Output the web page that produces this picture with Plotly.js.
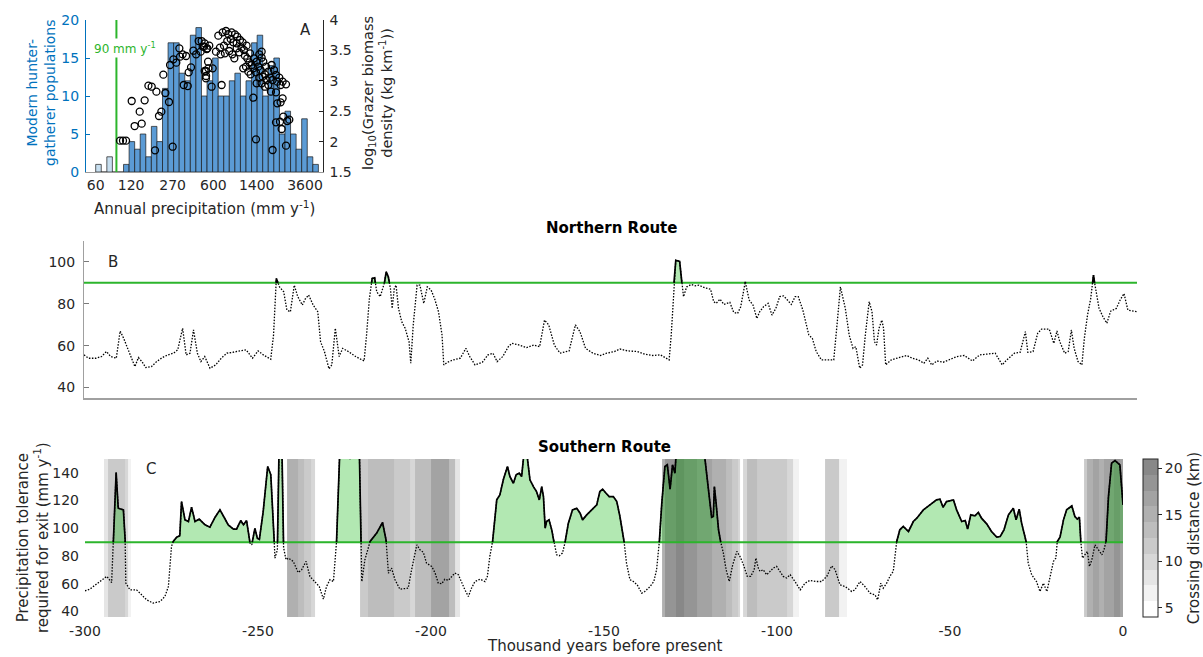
<!DOCTYPE html>
<html><head><meta charset="utf-8">
<script src="https://cdn.plot.ly/plotly-3.0.1.min.js"></script>
<style>html,body{margin:0;padding:0;background:#fff}#chart{width:1203px;height:657px}</style>
</head><body><div id="chart"></div>
<script>
// ---------------- DATA ----------------
const precipTickLabels = [60, 120, 270, 600, 1400, 3600];
// hunter-gatherer histogram: counts per log-precipitation bin
const histCounts = [1,0,2,0,0,1,4,3,5,2,6,4,11,17,17,13,12,18,19,10,12,15,10,10,12,13,10,12,17,18,10,14,15,5,8,5,3,7,2,1];
const histFirstEdgeMm = 60;      // lower edge of first bin (mm/yr)
const histBinWidthLog = 0.0473;  // bin width in log10(mm/yr)
const exitThreshold = 90;        // mm/yr
// grazer biomass points: [log10 precipitation, log10 biomass density]
const grazerPoints = [
[1.985,2.015],[2.010,2.015],[2.036,2.015],[2.084,2.668],[2.109,2.256],[2.152,2.492],[2.169,2.295],[2.194,2.679],[2.226,2.920],[2.254,2.903],[2.294,2.821],[2.282,1.856],[2.316,2.421],[2.336,2.492],[2.353,3.101],[2.370,2.799],[2.401,2.651],[2.410,3.260],[2.432,1.916],[2.438,3.353],[2.463,3.298],[2.489,3.534],[2.495,3.397],[2.517,3.435],[2.526,2.931],[2.560,2.914],[2.546,3.408],[2.568,3.139],[2.588,3.221],[2.608,3.495],[2.631,3.435],[2.653,3.654],[2.670,3.479],[2.687,3.561],[2.704,3.161],[2.716,3.079],[2.727,3.534],[2.704,3.616],[2.733,3.314],
[2.678,3.654],[2.698,3.561],[2.721,3.523],[2.743,3.578],[2.800,3.479],[2.820,3.742],[2.857,3.797],[2.885,3.819],[2.905,3.769],[2.933,3.797],[2.961,3.764],[2.981,3.726],[2.834,3.545],[2.868,3.578],[2.896,3.654],[2.925,3.687],[2.947,3.632],[2.976,3.616],[3.004,3.671],[3.026,3.632],[2.840,3.435],[2.876,3.452],[2.913,3.490],[2.939,3.435],[2.956,3.369],[2.976,3.534],[2.998,3.468],[3.018,3.545],[3.038,3.506],[3.060,3.578],[3.046,3.413],[3.066,3.369],[3.089,3.452],[3.083,3.304],[3.103,3.260],[3.123,3.369],[3.145,3.314],[3.168,3.435],[3.188,3.479],[3.032,3.205],[3.055,3.232],[3.075,3.150],[3.094,3.106],[3.117,3.205],[3.140,3.139],[3.160,3.232],[3.179,3.177],[3.196,3.068],[3.216,3.106],[3.230,3.013],[3.245,3.150],[3.259,3.051],[3.273,3.260],[3.281,3.013],[3.293,3.177],[3.310,3.095],[3.321,2.986],[3.338,3.051],[3.349,2.931],[3.366,2.986],[3.395,2.942],[3.267,2.821],[3.310,2.810],[3.366,2.711],[3.349,2.646],[3.321,2.629],[3.372,2.410],[3.344,2.328],[3.406,2.339],[3.423,2.361],[3.310,2.317],[3.358,2.207],[3.395,1.933],[3.281,1.862],[3.117,2.722],[3.140,2.037],[2.735,3.205],[2.715,3.161],[2.715,3.040],[2.772,3.205],[2.763,2.903],[2.848,2.931],[3.188,3.380],[3.202,3.314],[3.225,3.232],[3.168,3.051],[3.145,2.958],[3.188,2.958],[3.216,2.903],[3.245,2.931]
];
// Northern route: [kyr, tolerance mm/yr]
const northRoute = [
[-300,55.6],[-298.7,54.0],[-296.6,54.0],[-295.0,54.8],[-293.6,57.2],[-292.4,54.8],[-290.8,54.0],[-289.7,67.0],[-288.7,63.5],[-287.1,57.2],[-285.5,50.0],[-284.5,54.3],[-283.5,52.4],[-282.4,49.5],[-280.8,50.0],[-279.3,52.4],[-277.7,54.3],[-276.1,55.6],[-274.5,56.4],[-273.3,58.0],[-271.9,68.3],[-270.9,55.6],[-269.8,56.4],[-268.8,67.5],[-267.7,56.4],[-266.7,52.4],[-265.6,54.8],[-264.1,49.2],[-262.5,50.8],[-260.9,54.0],[-259.3,56.4],[-257.8,56.8],[-255.7,57.5],[-253.8,58.0],[-252.0,54.0],[-250.4,57.5],[-248.9,55.6],[-246.8,53.5],[-246.0,65.1],[-245.2,92.1],[-244.3,88.1],[-243.1,85.7],[-242.2,77.0],[-241.2,76.2],[-240.1,88.9],[-239.1,83.4],[-237.8,79.4],[-237.0,82.2],[-236.0,84.2],[-234.7,79.4],[-233.4,76.2],[-232.6,61.9],[-231.5,57.2],[-230.2,48.9],[-229.4,50.8],[-228.4,68.3],[-227.3,54.8],[-226.3,58.7],[-224.7,57.2],[-222.6,54.8],[-220.2,52.7],[-219.5,65.1],[-218.7,82.4],[-217.9,92.1],[-217.2,92.4],[-216.6,85.7],[-215.6,83.4],[-214.6,88.1],[-213.9,95.3],[-213.3,92.9],[-212.7,87.3],[-212.2,77.8],[-211.6,87.3],[-211.1,88.9],[-210.4,77.8],[-209.5,71.5],[-208.5,68.3],[-207.4,61.9],[-206.9,51.6],[-206.2,69.9],[-205.1,88.9],[-204.3,88.9],[-203.2,80.2],[-202.2,88.1],[-201.1,86.5],[-200.1,82.4],[-199.0,76.2],[-198.0,65.1],[-197.5,50.8],[-196.4,52.1],[-194.8,53.2],[-192.8,54.0],[-191.2,58.7],[-190.1,54.8],[-188.6,50.8],[-186.5,52.1],[-184.9,55.6],[-183.5,56.4],[-182.3,52.4],[-180.7,54.8],[-179.1,59.5],[-178.1,61.1],[-176.0,60.3],[-173.9,59.1],[-171.8,60.3],[-170.2,59.5],[-168.8,72.2],[-167.6,69.9],[-166.0,60.3],[-164.4,56.4],[-161.8,57.5],[-160.0,69.9],[-158.7,66.7],[-157.1,58.7],[-155.0,56.4],[-152.9,55.3],[-151.1,56.4],[-148.9,57.2],[-147.3,58.4],[-145.1,57.5],[-142.3,57.2],[-140.1,55.9],[-137.9,55.3],[-135.8,55.6],[-134.1,54.0],[-133.3,53.2],[-132.7,65.1],[-131.9,90.5],[-131.4,100.8],[-130.3,100.3],[-129.7,90.5],[-129.2,83.4],[-128.3,88.1],[-127.0,89.2],[-125.9,88.6],[-124.8,88.9],[-123.1,87.6],[-121.5,87.0],[-120.6,81.0],[-119.9,80.2],[-118.8,82.2],[-117.7,79.7],[-116.0,80.7],[-114.9,75.9],[-113.8,75.4],[-112.9,78.6],[-111.6,90.5],[-110.5,81.8],[-109.4,79.4],[-108.3,73.0],[-107.5,76.2],[-106.4,78.6],[-105.1,80.2],[-104.0,74.6],[-102.9,77.8],[-101.8,83.4],[-100.7,83.8],[-99.6,81.8],[-98.5,79.7],[-97.4,83.4],[-96.5,83.4],[-95.2,77.0],[-93.5,65.1],[-92.5,63.5],[-91.4,57.2],[-89.9,53.2],[-88.6,53.2],[-86.4,53.2],[-85.3,73.0],[-84.5,88.1],[-83.1,77.8],[-82.0,65.1],[-80.9,58.7],[-80.1,59.5],[-79.0,49.2],[-78.2,50.8],[-77.4,65.1],[-76.3,81.0],[-75.5,76.2],[-74.8,61.9],[-74.2,60.3],[-73.5,68.3],[-72.7,72.2],[-72.2,68.3],[-71.6,50.8],[-70.0,53.2],[-67.8,54.3],[-65.6,55.3],[-64.0,54.0],[-62.3,53.2],[-60.7,51.6],[-59.6,54.0],[-58.5,50.8],[-57.0,52.7],[-55.2,52.1],[-53.5,53.2],[-51.3,54.8],[-49.2,55.3],[-46.9,52.7],[-44.8,55.6],[-42.6,55.9],[-40.4,56.4],[-38.4,50.8],[-37.1,53.2],[-34.9,56.4],[-33.3,56.8],[-31.8,66.7],[-31.1,56.8],[-29.6,57.2],[-28.3,65.9],[-27.2,67.9],[-25.0,67.9],[-23.7,61.1],[-22.8,67.0],[-22.0,61.9],[-20.6,56.4],[-19.6,57.2],[-18.7,67.5],[-17.9,58.7],[-16.8,52.4],[-15.7,50.8],[-15.0,63.5],[-14.1,74.6],[-13.2,82.4],[-12.4,93.7],[-11.7,85.7],[-10.8,77.8],[-9.7,73.8],[-8.6,70.7],[-7.5,76.5],[-5.9,77.8],[-4.8,81.8],[-3.7,84.9],[-2.6,77.0],[0,76.2]
];
// Southern route: [kyr, tolerance mm/yr]
const southRoute = [
[-300,54.9],[-298.6,56.1],[-295.7,61.6],[-293.7,65.3],[-292.3,60.9],[-291.8,90.5],[-291.0,140.2],[-290.4,114.5],[-288.9,113.3],[-288.4,91.7],[-288.2,60.4],[-287.0,55.6],[-285.1,55.6],[-284.1,53.2],[-282.2,48.4],[-280.3,46.0],[-278.3,47.2],[-276.9,50.8],[-275.9,58.0],[-275.0,86.9],[-274.5,90.5],[-273.5,93.6],[-272.6,94.6],[-272.1,119.3],[-271.1,106.1],[-270.1,104.9],[-269.2,115.2],[-268.2,104.9],[-267.0,106.6],[-265.3,102.5],[-263.9,100.8],[-262.4,108.0],[-261.0,113.3],[-259.8,108.0],[-258.6,102.5],[-257.1,99.4],[-256.2,99.4],[-255.0,105.6],[-254.2,102.5],[-253.3,105.6],[-252.3,89.3],[-251.8,88.1],[-250.9,100.0],[-250.2,92.9],[-249.6,92.0],[-248.5,112.1],[-247.2,144.6],[-246.3,138.6],[-245.8,118.1],[-245.1,78.5],[-244.4,84.5],[-243.8,175],[-243.2,175],[-242.6,86],[-241.9,77.3],[-241.2,78.5],[-239.8,76.1],[-238.4,68.1],[-237.4,70.1],[-236.1,76.1],[-235.0,65.3],[-233.5,61.6],[-232.3,58.0],[-231.1,48.9],[-230.2,58.0],[-229.2,62.9],[-228.2,61.6],[-227.3,90.5],[-226.3,160],[-225.0,172],[-223.4,150],[-222.0,170],[-220.7,155],[-220.0,61.6],[-219.1,77.3],[-217.6,90.5],[-215.7,96.5],[-214.0,104.2],[-213.0,91.7],[-212.3,67.6],[-211.4,71.3],[-210.4,62.9],[-209.0,56.1],[-206.6,56.8],[-205.6,70.1],[-204.1,88.1],[-203.2,84.5],[-202.2,82.6],[-201.3,74.9],[-199.8,72.5],[-198.8,67.7],[-197.9,60.4],[-196.9,60.0],[-196.0,63.3],[-195.0,62.4],[-194.0,65.3],[-193.1,67.7],[-192.1,66.5],[-191.1,60.4],[-190.2,55.6],[-189.2,50.8],[-188.3,56.8],[-187.3,61.6],[-185.8,63.3],[-184.4,61.6],[-183.7,65.3],[-183.0,79.7],[-182.2,90.5],[-181.0,120.5],[-180.1,124.1],[-179.1,135.0],[-177.9,144.6],[-177.2,137.4],[-176.2,132.5],[-175.4,138.6],[-174.5,139.8],[-173.8,137.4],[-173.1,155],[-172.4,156],[-171.4,135.0],[-170.4,130.1],[-169.5,126.5],[-168.7,120.5],[-168.0,130.1],[-167.5,122.9],[-167.0,100.1],[-166.6,104.9],[-165.9,106.1],[-165.1,98.9],[-164.5,90.5],[-163.7,80.9],[-162.9,80.2],[-162.0,82.1],[-161.3,89.3],[-160.3,103.7],[-159.1,113.3],[-157.9,114.5],[-156.9,110.9],[-156.2,106.1],[-155.0,109.7],[-153.6,113.3],[-152.1,116.9],[-151.2,126.5],[-150.4,128.2],[-149.4,125.3],[-148.5,122.9],[-147.3,122.9],[-146.3,119.3],[-145.4,108.5],[-144.2,90.5],[-143.5,74.9],[-142.5,62.9],[-141.5,61.6],[-140.4,59.2],[-139.1,53.2],[-138.2,54.4],[-136.7,58.0],[-135.6,61.6],[-134.8,70.1],[-134.0,90.5],[-133.3,118.1],[-132.4,144.6],[-131.7,145.8],[-130.9,128.2],[-130.2,145.8],[-129.5,139.8],[-129.0,160],[-127.0,175],[-125.0,170],[-123.0,175],[-121.5,165],[-120.8,150],[-120.3,139.8],[-119.8,130.1],[-119.4,122.9],[-118.9,108.0],[-118.4,108.5],[-118.1,130.1],[-117.6,118.1],[-116.9,98.9],[-116.3,90.5],[-115.5,82.1],[-114.7,70.1],[-113.8,61.6],[-112.8,73.7],[-111.6,83.3],[-110.7,79.7],[-109.7,73.7],[-108.6,65.3],[-107.6,65.3],[-106.6,70.1],[-106.1,78.5],[-105.4,71.3],[-104.9,68.9],[-104.0,70.1],[-103.0,66.5],[-102.0,68.9],[-101.1,71.3],[-100.1,72.5],[-99.1,68.9],[-98.2,65.3],[-97.2,64.1],[-96.2,66.5],[-94.8,61.6],[-93.3,55.6],[-91.9,60.4],[-90.5,62.4],[-88.5,61.6],[-87.1,61.6],[-85.6,65.3],[-84.2,72.9],[-83.2,70.1],[-81.8,59.2],[-80.3,58.0],[-78.4,54.4],[-77.5,55.6],[-76.0,61.6],[-74.6,58.0],[-73.1,53.2],[-71.7,52.0],[-70.9,48.4],[-70.0,60.4],[-69.3,56.8],[-68.3,60.4],[-67.3,65.7],[-66.4,68.9],[-65.4,90.5],[-64.5,98.9],[-63.5,101.3],[-62.0,97.7],[-60.6,104.9],[-59.6,107.3],[-58.5,110.4],[-57.7,113.3],[-55.8,116.9],[-53.9,120.5],[-52.9,121.0],[-52.0,115.2],[-51.0,119.3],[-49.0,120.5],[-48.1,113.3],[-46.6,104.9],[-45.6,105.6],[-44.9,99.4],[-44.0,109.7],[-42.8,109.0],[-41.8,111.4],[-40.9,107.3],[-39.4,103.2],[-38.0,97.7],[-36.5,93.6],[-35.5,94.1],[-34.4,98.9],[-33.1,109.7],[-31.7,114.5],[-30.9,106.1],[-30.0,113.8],[-29.3,103.7],[-28.0,90.5],[-27.4,74.9],[-26.4,66.5],[-25.0,61.6],[-24.0,54.4],[-23.0,60.4],[-22.0,54.4],[-21.1,65.3],[-20.1,76.1],[-19.4,78.5],[-19.0,90.5],[-18.2,93.6],[-17.2,106.1],[-16.3,113.3],[-14.8,116.2],[-13.9,108.5],[-13.2,106.6],[-12.6,108.0],[-12.2,90.5],[-11.7,78.5],[-11.0,80.9],[-10.3,83.3],[-9.7,72.5],[-9.0,77.3],[-8.1,88.1],[-7.1,84.5],[-6.1,80.9],[-5.5,84.5],[-4.9,90.5],[-4.2,122.9],[-3.3,147.0],[-2.3,148.9],[-0.9,145.8],[0,116.9]
];
// crossing distance bands for the southern route: [start kyr, end kyr, distance km]
const crossingBands = [
[-294.5,-293.3,8.3],[-293.3,-288.5,11.7],[-288.5,-287.6,10],[-287.6,-286.7,6.6],
[-241.7,-238.3,15.1],[-238.3,-236.7,13.4],[-236.7,-234.6,11.7],[-234.6,-233.5,10],
[-220.4,-218.1,11.7],[-218.1,-210.6,13.4],[-210.6,-206.2,11.7],[-206.2,-204.5,10],[-204.5,-200.0,13.4],[-200.0,-194.9,16.8],[-194.9,-193.1,13.4],[-193.1,-191.7,8.3],
[-133.1,-132.35,15.1],[-132.35,-129.2,18.5],[-129.2,-126.8,20.2],[-126.8,-123.1,18.5],[-123.1,-118.7,16.8],[-118.7,-114.8,15.1],[-114.8,-113.1,13.4],[-113.1,-111.4,11.7],[-111.4,-110.55,10],
[-109.8,-108.7,10],[-108.7,-105.9,13.4],[-105.9,-97.0,11.7],[-97.0,-95.3,10],[-95.3,-93.7,6.6],
[-86.1,-82.0,11.7],[-82.0,-79.7,6.6],
[-11.4,-10.3,11.7],[-10.3,-8.6,15.1],[-8.6,-7.0,16.8],[-7.0,-5.6,15.1],[-5.6,-2.5,16.8],[-2.5,-0.8,18.5],[-0.8,0,16.8]
];
const timeTicks = [-300,-250,-200,-150,-100,-50,0];
const distTicks = [5,10,15,20];
const distRange = [4,21];
const grayLevels = [255,242,229,215,202,189,176,163,149,136];

// ---------------- STYLE ----------------
const W = 1203, H = 657;
const px = v => v / W, py = v => 1 - v / H;
const FONT = 'DejaVu Sans';
const TXT = '#262626';
const BLUE = '#0072BD';
const GREEN = '#2cb52c';
const FILL = 'rgba(0,178,0,0.3)';

// ---------------- PANEL A ----------------
const lgThr = Math.log10(exitThreshold);
const lgFirst = Math.log10(histFirstEdgeMm);
const binCenters = histCounts.map((_, i) => lgFirst + (i + 0.5) * histBinWidthLog);
const barColors = binCenters.map(c => c < lgThr ? '#c7dff0' : '#5b9bd5');
const traces = [];
traces.push({type:'bar', x:binCenters, y:histCounts, width:histBinWidthLog, xaxis:'x', yaxis:'y',
  marker:{color:barColors, line:{color:'#1a1a1a', width:0.7}}, hoverinfo:'skip'});
traces.push({type:'scatter', mode:'lines', x:[lgThr, lgThr], y:[0, 20], xaxis:'x', yaxis:'y',
  line:{color:GREEN, width:2}, hoverinfo:'skip'});
traces.push({type:'scatter', mode:'markers', x:grazerPoints.map(p=>p[0]), y:grazerPoints.map(p=>p[1]),
  xaxis:'x', yaxis:'y2', marker:{symbol:'circle-open', size:7, color:'#000', line:{width:1.3, color:'#000'}}, hoverinfo:'skip'});

// ---------------- ROUTES ----------------
function thresholdSeries(pairs, thr) {
  const x = [], y = [];
  for (let i = 0; i < pairs.length; i++) {
    const [t, v] = pairs[i];
    x.push(t); y.push(v);
    if (i < pairs.length - 1) {
      const [t2, v2] = pairs[i + 1];
      if ((v - thr) * (v2 - thr) < 0) {
        x.push(t + (thr - v) * (t2 - t) / (v2 - v)); y.push(thr);
      }
    }
  }
  return {x, y, solid: y.map(v => v >= thr ? v : null), top: y.map(v => Math.max(v, thr)), base: y.map(() => thr)};
}
function routeTraces(pairs, xa, ya) {
  const s = thresholdSeries(pairs, exitThreshold);
  return [
    {type:'scatter', mode:'lines', x:s.x, y:s.base, xaxis:xa, yaxis:ya, line:{color:GREEN, width:2}, hoverinfo:'skip'},
    {type:'scatter', mode:'lines', x:s.x, y:s.top, xaxis:xa, yaxis:ya, line:{color:'rgba(0,0,0,0)', width:0}, fill:'tonexty', fillcolor:FILL, hoverinfo:'skip'},
    {type:'scatter', mode:'lines', x:s.x, y:s.y, xaxis:xa, yaxis:ya, line:{color:'#000', width:1.3, dash:'1.5px,1.5px'}, hoverinfo:'skip'},
    {type:'scatter', mode:'lines', x:s.x, y:s.solid, xaxis:xa, yaxis:ya, line:{color:'#000', width:1.7}, connectgaps:false, hoverinfo:'skip'}
  ];
}

// heatmap of crossing distance
const hmEdges = [crossingBands[0][0]], hmZ = [];
crossingBands.forEach(([a, b, d]) => {
  if (a > hmEdges[hmEdges.length - 1] + 1e-9) { hmZ.push(null); hmEdges.push(a); }
  hmZ.push(d); hmEdges.push(b);
});
const grayScale = [];
grayLevels.forEach((g, k) => {
  const c = `rgb(${g},${g},${g})`;
  grayScale.push([k / grayLevels.length, c], [(k + 1) / grayLevels.length, c]);
});
traces.push({type:'heatmap', x:hmEdges, y:[36, 150], z:[hmZ], xaxis:'x3', yaxis:'y4',
  zmin:distRange[0], zmax:distRange[1], colorscale:grayScale, hoverinfo:'skip', zsmooth:false,
  colorbar:{x:px(1143), xanchor:'left', y:1 - 617/H, yanchor:'bottom', len:158/H, lenmode:'fraction',
    thickness:15, thicknessmode:'pixels', xpad:0, ypad:0, outlinewidth:1, outlinecolor:TXT,
    tickvals:distTicks, ticks:'outside', ticklen:4, tickcolor:TXT, tickfont:{size:14, color:TXT},
    title:{text:'Crossing distance (km)', side:'right', font:{size:15, color:TXT}}}});
traces.push(...routeTraces(northRoute, 'x2', 'y3'));
traces.push(...routeTraces(southRoute, 'x3', 'y4'));

// ---------------- LAYOUT ----------------
const tickTxt = v => String(v);
function label(text, x, y, size, extra) {
  return Object.assign({text, x:px(x), y:py(y), xref:'paper', yref:'paper', showarrow:false,
    xanchor:'center', yanchor:'middle', font:{size}}, extra || {});
}
const layout = {
  width: W, height: H, margin:{l:0, r:0, t:0, b:0},
  paper_bgcolor:'#fff', plot_bgcolor:'rgba(0,0,0,0)', showlegend:false, bargap:0,
  font:{family:FONT, size:14, color:TXT},
  xaxis:{domain:[px(86), px(322.7)], range:[1.6958, 3.7068], anchor:'y',
    tickvals:precipTickLabels.map(v=>Math.log10(v)), ticktext:precipTickLabels.map(tickTxt),
    showline:true, linecolor:'#9a9a9a', linewidth:1, ticks:'', zeroline:false, showgrid:false, tickfont:{size:14}},
  yaxis:{domain:[py(172), py(20)], range:[0, 20], anchor:'x', tickvals:[0,5,10,15,20],
    showline:true, linecolor:BLUE, ticks:'inside', ticklen:4, tickcolor:BLUE, tickfont:{size:14, color:BLUE},
    zeroline:false, showgrid:false, ticklabelstandoff:3},
  yaxis2:{overlaying:'y', side:'right', anchor:'x', range:[1.5, 4], tickvals:[1.5,2,2.5,3,3.5,4],
    ticktext:['1.5','2','2.5','3','3.5','4'], showline:true, linecolor:TXT, ticks:'inside', ticklen:4, tickcolor:TXT,
    zeroline:false, showgrid:false, tickfont:{size:14}, ticklabelstandoff:3},
  xaxis2:{domain:[px(84), px(1137)], range:[-300, 0], anchor:'y3', showticklabels:false, ticks:'',
    showline:true, linecolor:'#a0a0a0', linewidth:2, zeroline:false, showgrid:false},
  yaxis3:{domain:[py(398), py(241)], range:[35, 110], anchor:'x2', tickvals:[40,60,80,100],
    showline:true, linecolor:'#a0a0a0', linewidth:1, ticks:'inside', ticklen:5, tickcolor:'#7a7a7a',
    zeroline:false, showgrid:false, tickfont:{size:14}, ticklabelstandoff:5},
  xaxis3:{domain:[px(85), px(1123)], range:[-300, 0], anchor:'y4', tickvals:timeTicks, ticktext:timeTicks.map(tickTxt),
    showline:false, ticks:'', zeroline:false, showgrid:false, tickfont:{size:14}, ticklabelstandoff:4},
  yaxis4:{domain:[py(617), py(459)], range:[36, 150], anchor:'x3', tickvals:[40,60,80,100,120,140],
    showline:false, ticks:'', zeroline:false, showgrid:false, tickfont:{size:14}, ticklabelstandoff:5},
  annotations:[
    label('A', 305, 30, 15),
    label('B', 113, 262, 15),
    label('C', 151, 469, 15),
    label('90 mm y<sup>-1</sup>', 125, 48, 12, {font:{size:12, color:GREEN}, bgcolor:'#fff', borderpad:1}),
    label('Modern hunter-<br>gatherer populations', 41, 93, 14, {textangle:-90, font:{size:14, color:BLUE}}),
    label('log<sub>10</sub>(Grazer biomass<br>density (kg km<sup>-1</sup>))', 377, 93, 14.5, {textangle:-90}),
    label('Annual precipitation (mm y<sup>-1</sup>)', 204, 208, 15),
    label('<b>Northern Route</b>', 611, 228, 15, {font:{size:15, color:'#000'}}),
    label('<b>Southern Route</b>', 604, 447, 15, {font:{size:15, color:'#000'}}),
    label('Precipitation tolerance<br>required for exit (mm y<sup>-1</sup>)', 33, 538, 15, {textangle:-90}),
    label('Thousand years before present', 604, 646, 15)
  ]
};
Plotly.newPlot('chart', traces, layout, {staticPlot:true, displayModeBar:false});
</script></body></html>
